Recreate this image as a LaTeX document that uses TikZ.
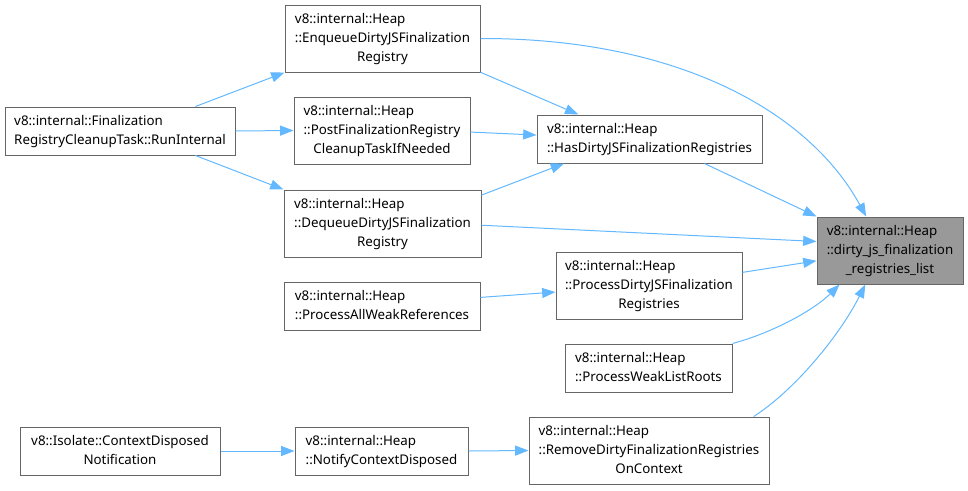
\documentclass[tikz,border=0pt]{standalone}
\usepackage{fontspec}
\setmainfont{Noto Sans}
\usetikzlibrary{arrows.meta}
\definecolor{edgeblue}{HTML}{63B8FF}
\definecolor{boxgray}{HTML}{666666}
\definecolor{targetfill}{HTML}{999999}
\newcommand{\lastline}[1]{\multicolumn{1}{@{}c@{}}{#1}}
\newcommand{\boxtext}[1]{\begin{tabular}{@{}l@{}}#1\end{tabular}}
\begin{document}
\begin{tikzpicture}[x=0.75pt,y=-0.75pt,
  box/.style={draw=boxgray, fill=white, line width=0.75pt, inner sep=0pt, rectangle,
    font=\fontsize{10}{14.25}\selectfont, text=black},
  target/.style={box, fill=targetfill},
  twoline/.style={minimum height=36pt},
  threeline/.style={minimum height=50.25pt},
  conn/.style={draw=edgeblue, line width=0.75pt, -{Triangle[length=10pt,width=7.5pt]}, fill=none}
]
\useasboundingbox (0,0) rectangle (968,490);
% nodes
\node[box,twoline,minimum width=172.5pt] (A) at (120,131)
  {\boxtext{v8::internal::Finalization\\\lastline{RegistryCleanupTask::RunInternal}}};
\node[box,threeline,minimum width=146.25pt] (B) at (382.5,38.5)
  {\boxtext{v8::internal::Heap\\::EnqueueDirtyJSFinalization\\\lastline{Registry}}};
\node[box,threeline,minimum width=132pt] (C) at (382,130.5)
  {\boxtext{v8::internal::Heap\\::PostFinalizationRegistry\\\lastline{CleanupTaskIfNeeded}}};
\node[box,threeline,minimum width=147.75pt] (D) at (382.5,223.5)
  {\boxtext{v8::internal::Heap\\::DequeueDirtyJSFinalization\\\lastline{Registry}}};
\node[box,twoline,minimum width=168.75pt] (E) at (649.5,139)
  {\boxtext{v8::internal::Heap\\::HasDirtyJSFinalizationRegistries}};
\node[target,threeline,minimum width=109.5pt] (F) at (890,250.5)
  {\boxtext{v8::internal::Heap\\::dirty\_js\_finalization\\\lastline{\_registries\_list}}};
\node[box,threeline,minimum width=139.5pt] (G) at (649,285.5)
  {\boxtext{v8::internal::Heap\\::ProcessDirtyJSFinalization\\\lastline{Registries}}};
\node[box,twoline,minimum width=147pt] (H) at (382,306)
  {\boxtext{v8::internal::Heap\\::ProcessAllWeakReferences}};
\node[box,twoline,minimum width=125.25pt] (I) at (648.5,368)
  {\boxtext{v8::internal::Heap\\::ProcessWeakListRoots}};
\node[box,threeline,minimum width=180pt] (J) at (649,450.5)
  {\boxtext{v8::internal::Heap\\::RemoveDirtyFinalizationRegistries\\\lastline{OnContext}}};
\node[box,twoline,minimum width=150pt] (K) at (120,451)
  {\boxtext{v8::Isolate::ContextDisposed\\\lastline{Notification}}};
\node[box,twoline,minimum width=129.75pt] (L) at (381.5,451)
  {\boxtext{v8::internal::Heap\\::NotifyContextDisposed}};
% connectors
\draw[conn] (A.18.4) -- (B.south west);
\draw[conn] (A.east) -- (C.west);
\draw[conn] (A.-18.4) -- (D.north west);
\draw[conn] (B.-19.9) -- (E.161.4);
\draw[conn] (C.-1.6) -- (E.178);
\draw[conn] (D.16.1) -- (E.196.8);
\draw[conn] (B.east) .. controls (675,38) and (808,110) .. (F.125.6);
\draw[conn] (E.-24.2) -- (F.north west);
\draw[conn] (D.-1.5) -- (F.173.4);
\draw[conn] (G.8.3) -- (F.188.9);
\draw[conn] (I.north east) .. controls (775,332) and (815,309) .. (F.214.9);
\draw[conn] (J.18.5) .. controls (795,390) and (840,335) .. (F.234.8);
\draw[conn] (H.5.2) -- (G.184);
\draw[conn] (K.east) -- (L.west);
\draw[conn] (L.east) -- (J.west);
\end{tikzpicture}
\end{document}
